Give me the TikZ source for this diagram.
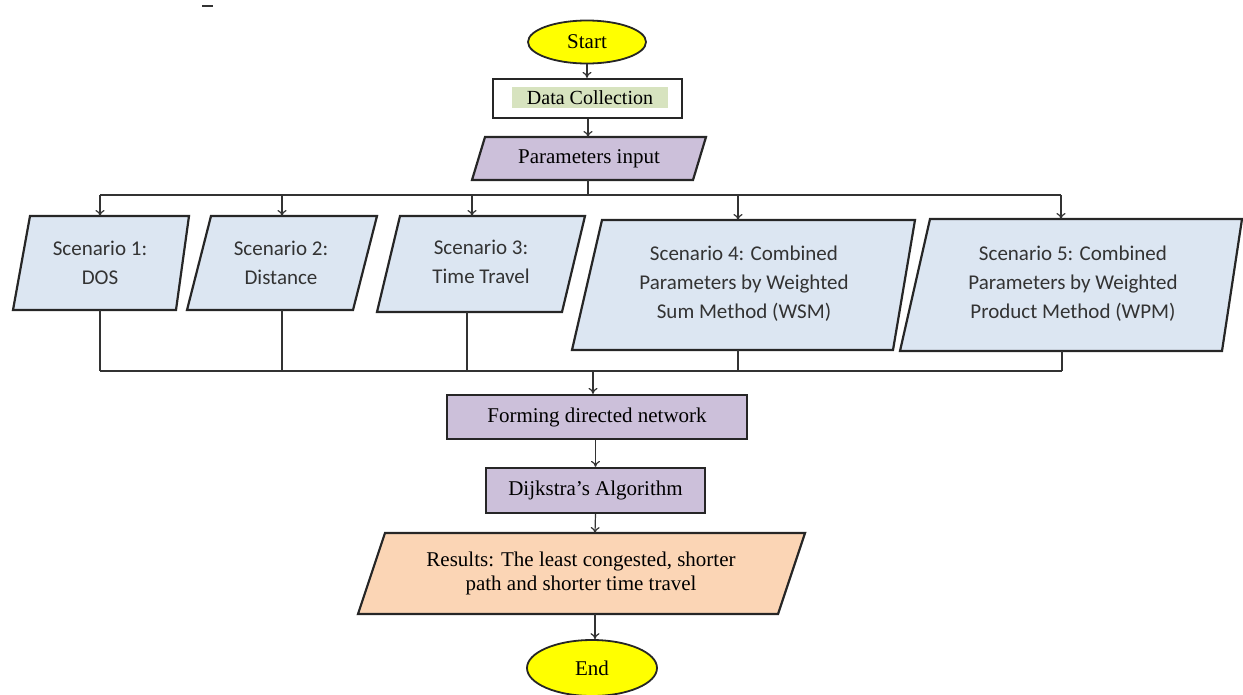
\documentclass[tikz,border=0pt]{standalone}
\usepackage{fontspec}
\setmainfont{Liberation Serif}
\newfontfamily\calfont{Carlito}
\usetikzlibrary{shapes.geometric,arrows.meta}
\definecolor{termyellow}{RGB}{255,255,0}
\definecolor{lav}{RGB}{204,192,218}
\definecolor{scblue}{RGB}{220,230,242}
\definecolor{peach}{RGB}{251,213,181}
\definecolor{hlgreen}{RGB}{215,227,191}
\tikzset{
  outline/.style={draw=black!85, line width=2.2pt, line join=miter},
  term/.style={ellipse, draw=black!85, line width=1.8pt, fill=termyellow, inner sep=0pt},
  procbox/.style={outline, rectangle, inner sep=0pt},
  sertext/.style={font=\fontsize{21}{24}\selectfont, align=center, inner sep=0pt},
  scentext/.style={font=\calfont\fontsize{21}{29}\selectfont, align=center, inner sep=0pt, text=black!80},
  conn/.style={draw=black!80, line width=1.2pt},
  arr/.style={conn, -{To[length=6pt,width=9pt]}},
}
\begin{document}
\begin{tikzpicture}[x=1pt,y=-1pt]
\useasboundingbox (0,0) rectangle (1243,694);

% small mark at top left
\draw[black!80, line width=1.8pt] (202,6) -- (213,6);

% Start
\node[term, minimum width=118pt, minimum height=43pt, sertext] (start) at (587,42) {Start};

% Data collection
\node[procbox, fill=white, minimum width=189pt, minimum height=39pt] (data) at (587.5,98.5) {};
\node[fill=hlgreen, minimum width=156pt, minimum height=21pt, inner sep=0pt, sertext, font=\fontsize{20}{24}\selectfont] (datatext) at (590,97.5) {Data Collection};

% Parameters input
\path[outline, fill=lav] (485,137) -- (706,137) -- (693,180) -- (472,180) -- cycle;
\node[sertext] (param) at (589,159) {Parameters input};
\coordinate (paramtop) at (588,137);
\coordinate (parambot) at (588,180);

% Scenarios
\path[outline, fill=scblue] (30,216) -- (189,216) -- (176,310) -- (13,310) -- cycle;
\node[scentext] (s1) at (100,263) {Scenario 1:\\DOS};
\path[outline, fill=scblue] (211,216) -- (377,216) -- (353,310) -- (187,310) -- cycle;
\node[scentext] (s2) at (281,263) {Scenario 2:\\Distance};
\path[outline, fill=scblue] (400,216) -- (585,216) -- (562,312) -- (377,312) -- cycle;
\node[scentext] (s3) at (481,262) {Scenario 3:\\Time Travel};
\path[outline, fill=scblue] (602,220) -- (915,220) -- (893,350) -- (572,350) -- cycle;
\node[scentext] (s4) at (744,284) {Scenario 4: Combined\\Parameters by Weighted\\Sum Method (WSM)};
\path[outline, fill=scblue] (930,219) -- (1242,219) -- (1222,351) -- (900,351) -- cycle;
\node[scentext] (s5) at (1073,284) {Scenario 5: Combined\\Parameters by Weighted\\Product Method (WPM)};

\coordinate (s1top) at (100,216);  \coordinate (s1bot) at (100,310);
\coordinate (s2top) at (282,216);  \coordinate (s2bot) at (282,310);
\coordinate (s3top) at (472,216);  \coordinate (s3bot) at (467,312);
\coordinate (s4top) at (738,220);  \coordinate (s4bot) at (738,350);
\coordinate (s5top) at (1061,219); \coordinate (s5bot) at (1062,351);

% upper bus
\coordinate (busA) at (588,195);
\coordinate (busL) at (100,195);
\coordinate (busR) at (1061,195);

% lower bus
\coordinate (busB) at (593,371);
\coordinate (lbusL) at (100,371);
\coordinate (lbusR) at (1062,371);

% Forming directed network
\node[procbox, fill=lav, minimum width=300pt, minimum height=44pt, sertext] (form) at (597,417) {Forming directed network};
% Dijkstra
\node[procbox, fill=lav, minimum width=219pt, minimum height=45pt, sertext] (dijk) at (595.5,490.5) {Dijkstra’s Algorithm};

% Results
\path[outline, fill=peach] (385,533) -- (805,533) -- (778,614) -- (358,614) -- cycle;
\node[sertext] (res) at (581,573) {Results: The least congested, shorter\\path and shorter time travel};
\coordinate (restop) at (595,533);
\coordinate (resbot) at (595,614);

% End
\node[term, minimum width=130pt, minimum height=56pt, sertext] (end) at (592,668) {End};

% connectors
\draw[arr] (start.south) -- (start.south |- data.north);
\draw[arr] (data.south -| paramtop) -- (paramtop);
\draw[conn] (parambot) -- (busA);
\draw[conn] (busL) -- (busR);
\draw[arr] (busL) -- (s1top);
\draw[arr] (s2top |- busA) -- (s2top);
\draw[arr] (s3top |- busA) -- (s3top);
\draw[arr] (s4top |- busA) -- (s4top);
\draw[arr] (busR) -- (s5top);

\draw[conn] (s1bot) -- (lbusL);
\draw[conn] (s2bot) -- (s2bot |- lbusL);
\draw[conn] (s3bot) -- (s3bot |- lbusL);
\draw[conn] (s4bot) -- (s4bot |- lbusL);
\draw[conn] (s5bot) -- (lbusR);
\draw[conn] (lbusL) -- (lbusR);
\draw[arr] (busB) -- (busB |- form.north);

\draw[arr] (dijk.north |- form.south) -- (dijk.north);
\draw[arr] (dijk.south) -- (restop);
\draw[arr] (resbot) -- (resbot |- end.north);
\end{tikzpicture}
\end{document}
